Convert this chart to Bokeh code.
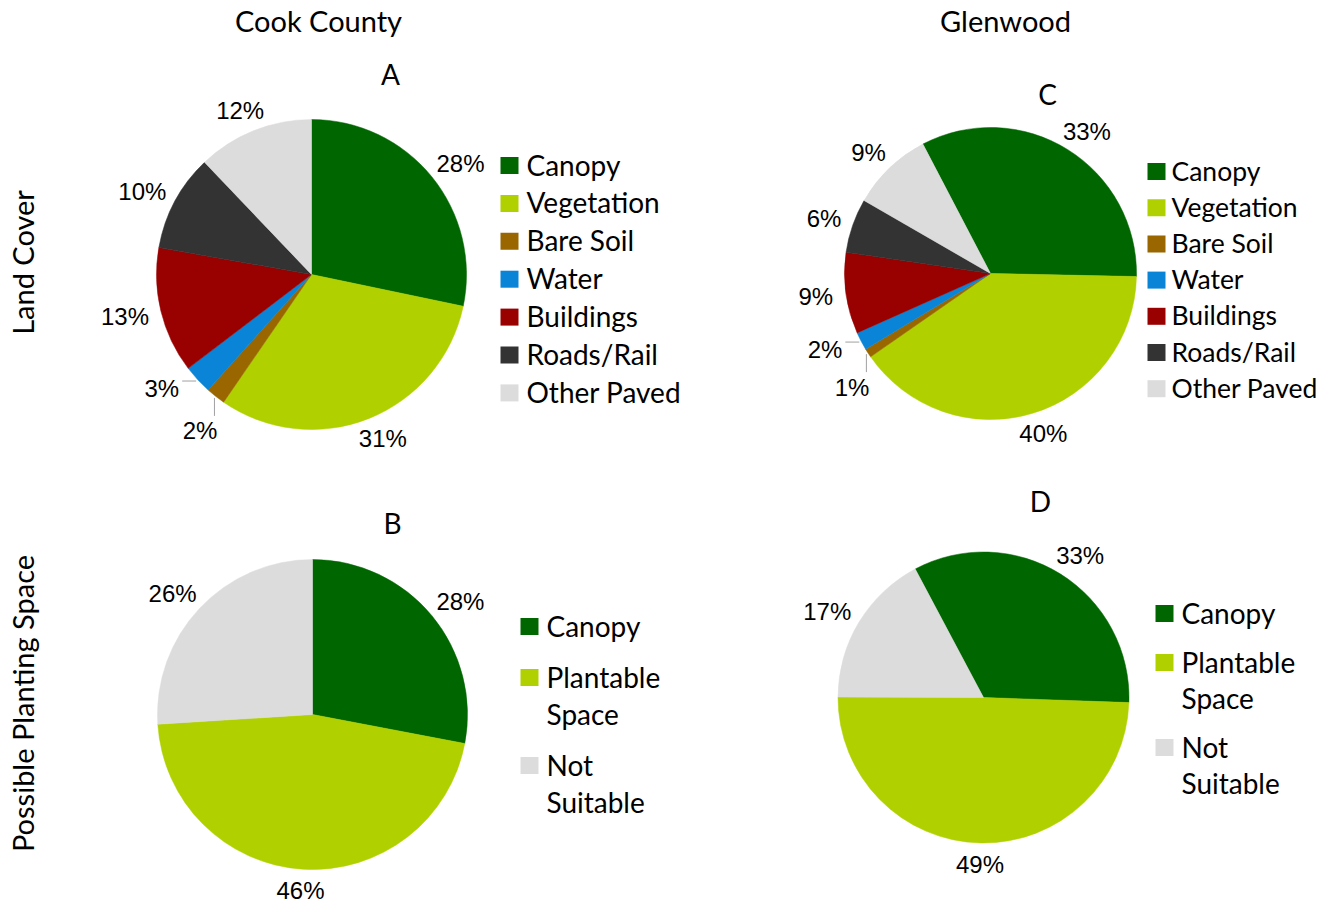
import math
from bokeh.plotting import figure
from bokeh.models import Range1d
from bokeh.core.properties import value
from bokeh.embed import file_html
from bokeh.resources import INLINE

# ---------------- data ----------------
land_categories = ["Canopy", "Vegetation", "Bare Soil", "Water", "Buildings", "Roads/Rail", "Other Paved"]
cook_land = [28, 31, 2, 3, 13, 10, 12]
glen_land = [33, 40, 1, 2, 9, 6, 9]

space_categories = ["Canopy", "Plantable Space", "Not Suitable"]
cook_space = [28, 46, 26]
glen_space = [33, 49, 17]

column_titles = ["Cook County", "Glenwood"]
row_titles = ["Land Cover", "Possible Planting Space"]
panel_letters = ["A", "B", "C", "D"]

# ---------------- style ----------------
land_colors = ["#006600", "#b0d000", "#996600", "#0a84d6", "#990000", "#333333", "#dcdcdc"]
space_colors = ["#006600", "#b0d000", "#dcdcdc"]

W, H = 1321, 907
PCT_FONT = "Liberation Sans"
PCT_SIZE = 24
LEG_FONT = "Lato"

p = figure(width=W, height=H, output_backend="svg", toolbar_location=None,
           x_range=Range1d(0, W), y_range=Range1d(0, H), min_border=0)
p.xaxis.visible = False
p.yaxis.visible = False
p.xgrid.visible = False
p.ygrid.visible = False
p.outline_line_color = None
p.background_fill_color = "white"
p.border_fill_color = "white"


def Y(v):
    return H - v


def txt(x, y, s, size, font, align="center", baseline="middle", angle=0.0, color="black"):
    p.text(x=[x], y=[Y(y)], text=[s], text_font=value(font), text_font_size=value(f"{size}px"),
           text_align=align, text_baseline=baseline, angle=angle, text_color=color)


def pie(cx, cy, r, vals, colors, start_deg, leaders):
    total = float(sum(vals))
    theta = start_deg
    for i, v in enumerate(vals):
        span = v / total * 360.0
        t1, t2 = theta, theta + span
        # clockwise from 12 o'clock -> math angles
        p.wedge(x=[cx], y=[Y(cy)], radius=r, start_angle=math.radians(90 - t2),
                end_angle=math.radians(90 - t1), fill_color=colors[i],
                line_color=colors[i], line_width=0.5)
        mid = math.radians((t1 + t2) / 2)
        dx, dy = math.sin(mid), -math.cos(mid)  # screen coords (y down)
        label = f"{v}%"
        mode = leaders.get(i)
        if mode is None:
            w = 13.3 * (len(label) - 1) + 21.3
            h = 17
            g = 13
            lx = cx + (r + g) * dx + w / 2 * dx
            ly = cy + (r + g) * dy + h / 2 * dy
            txt(lx, ly, label, PCT_SIZE, PCT_FONT)
        else:
            ex, ey = cx + (r + 2) * dx, cy + (r + 2) * dy
            if mode == "h":
                p.line(x=[ex, ex - 14], y=[Y(ey), Y(ey)], line_color="#a0a0a0", line_width=1)
                txt(ex - 17, ey + 7, label, PCT_SIZE, PCT_FONT, align="right")
            else:
                p.line(x=[ex, ex], y=[Y(ey), Y(ey + 18)], line_color="#a0a0a0", line_width=1)
                txt(ex + 3, ey + 33, label, PCT_SIZE, PCT_FONT, align="right")
        theta = t2


def legend(x0, y0, entries, colors, row_gap, line_gap, size, text_dx=26):
    y = y0
    for lab, col in zip(entries, colors):
        p.rect(x=[x0 + 9], y=[Y(y)], width=18, height=17, fill_color=col, line_color=None)
        words = lab.split(" ") if line_gap else [lab]
        for k, wd in enumerate(words):
            txt(x0 + text_dx, y + k * (line_gap or 0) - 1, wd, size, LEG_FONT, align="left")
        y += row_gap + (len(words) - 1) * (line_gap or 0)


# Pies
pie(311, 274, 155, cook_land, land_colors, 0.0, {2: "v", 3: "h"})
pie(312, 714, 155, cook_space, space_colors, 0.0, {})
pie(990, 273, 146, glen_land, land_colors, -27.6, {2: "v", 3: "h"})
pie(983, 697, 145.5, glen_space, space_colors, -28.0, {})

# Legends
legend(500, 165, land_categories, land_colors, 37.9, 0, 28)
legend(1147, 171, land_categories, land_colors, 36.2, 0, 26.5, text_dx=24)
legend(520, 626, space_categories, space_colors, 51, 37, 28)
legend(1155, 613, space_categories, space_colors, 49, 36, 28)

# Titles
txt(318, 20, column_titles[0], 29, LEG_FONT)
txt(1005, 20, column_titles[1], 29, LEG_FONT)
txt(22, 262, row_titles[0], 29, LEG_FONT, angle=math.pi / 2)
txt(22, 703, row_titles[1], 29, LEG_FONT, angle=math.pi / 2)

# Panel letters
txt(390, 73, panel_letters[0], 28, LEG_FONT)
txt(392, 522, panel_letters[1], 28, LEG_FONT)
txt(1047, 93, panel_letters[2], 28, LEG_FONT)
txt(1040, 500, panel_letters[3], 28, LEG_FONT)

open("out.html", "w").write(file_html(p, INLINE))
